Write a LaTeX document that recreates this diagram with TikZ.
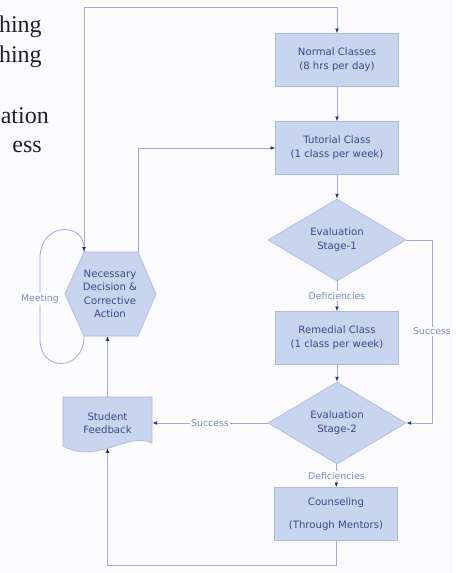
\documentclass[tikz,border=0pt]{standalone}
\usepackage{fontspec}
\setmainfont{Liberation Serif}
\newfontfamily\boxfont{DejaVu Sans}
\usetikzlibrary{arrows.meta,shapes.geometric}
\definecolor{boxfill}{RGB}{201,212,238}
\definecolor{boxline}{RGB}{172,186,222}
\definecolor{conn}{RGB}{160,172,214}
\definecolor{txt}{RGB}{55,75,140}
\definecolor{lbltxt}{RGB}{125,142,196}
\definecolor{tipc}{RGB}{40,52,110}
\definecolor{bg}{RGB}{251,250,252}
\definecolor{serifc}{RGB}{35,32,35}
\begin{document}
\begin{tikzpicture}[x=0.75pt,y=-0.75pt,
  flowbox/.style={draw=boxline, fill=boxfill, line width=0.5pt,
    minimum width=92pt, minimum height=39.5pt, inner sep=0pt, align=center,
    font=\boxfont\fontsize{7.6}{10.5}\selectfont, text=txt},
  decision/.style={diamond, aspect=1.7, draw=boxline, fill=boxfill, line width=0.5pt,
    minimum width=103.5pt, minimum height=61.5pt, inner sep=0pt, align=center,
    font=\boxfont\fontsize{7.6}{10.5}\selectfont, text=txt},
  shapefill/.style={draw=boxline, fill=boxfill, line width=0.5pt},
  plaintext/.style={inner sep=0pt, align=center,
    font=\boxfont\fontsize{7.6}{10}\selectfont, text=txt},
  lbl/.style={fill=bg, inner sep=1pt, font=\boxfont\fontsize{7}{8}\selectfont, text=lbltxt},
  arr/.style={draw=conn, line width=0.6pt, -{Latex[length=3.6pt,width=2.8pt,color=tipc]}},
  seriftext/.style={inner sep=0pt, anchor=base east, font=\fontsize{18}{21}\selectfont, text=serifc}
]
\fill[bg] (0,0) rectangle (455,573);
\useasboundingbox (0,0) rectangle (455,573);

% cropped page text at top left
\begin{scope}
  \clip (0,0) rectangle (455,573);
  \node[seriftext] (t1) at (42,33) {hing};
  \node[seriftext] (t2) at (42,63) {hing};
  \node[seriftext, anchor=base west] (t3) at (0.5,124) {ation};
  \node[seriftext] (t4) at (42,153) {ess};
\end{scope}

% helper coordinates
\coordinate (ytop) at (0,7);
\coordinate (ybot) at (0,565);
\coordinate (xr) at (432,0);
\coordinate (hexTL) at (84,252);
\coordinate (hexTR) at (138,252);
\coordinate (hexBL) at (84,336);

% hexagon
\filldraw[shapefill] (84,252) -- (138,252) -- (156,294) -- (138,336) -- (84,336) -- (65,294) -- cycle;
\node[plaintext] (hex) at (110,294) {Necessary\\Decision \&\\Corrective\\Action};

% document shape
\filldraw[shapefill] (63,397) -- (152,397) -- (152,443) .. controls (128,431) and (98,465) .. (63,446) -- cycle;
\node[plaintext, minimum width=66.75pt, minimum height=39pt] (fb) at (107.5,423) {Student\\Feedback};
\coordinate (fbb) at (107.5,448);

% main column
\node[flowbox] (normal) at (337,60) {Normal Classes\\(8 hrs per day)};
\node[flowbox] (tutor) at (337,148) {Tutorial Class\\(1 class per week)};
\node[decision] (s1) at (337,240) {Evaluation\\Stage-1};
\node[flowbox] (remed) at (337,338) {Remedial Class\\(1 class per week)};
\node[decision] (s2) at (337,423) {Evaluation\\Stage-2};
\node[flowbox] (couns) at (336,514) {Counseling\\[7pt](Through Mentors)};

% connectors
\draw[arr] (hexTL) -- (hexTL |- ytop) -| (normal.north);
\draw[arr] (hexTR) |- (tutor.west);
\draw[arr] (normal) -- (tutor);
\draw[arr] (tutor) -- (s1);
\draw[arr] (s1) -- node[lbl] {Deficiencies} (remed);
\draw[arr] (remed) -- (s2);
\draw[arr] (s1.east) -- (s1.east -| xr) -- node[lbl] {Success} (s2.east -| xr) -- (s2.east);
\draw[arr] (s2.west) -- node[lbl] {Success} (fb.east);
\draw[arr] (s2) -- node[lbl] {Deficiencies} (couns);
\draw[arr] (couns.south) -- (couns.south |- ybot) -| (fbb);
\draw[arr] (fb.north) -- (fb.north |- hexBL);
\draw[arr] (hexBL) .. controls (84,372) and (40,372) .. (40,340) -- node[lbl] {Meeting} (40,258) .. controls (40,222) and (84,222) .. (hexTL);
\end{tikzpicture}
\end{document}
